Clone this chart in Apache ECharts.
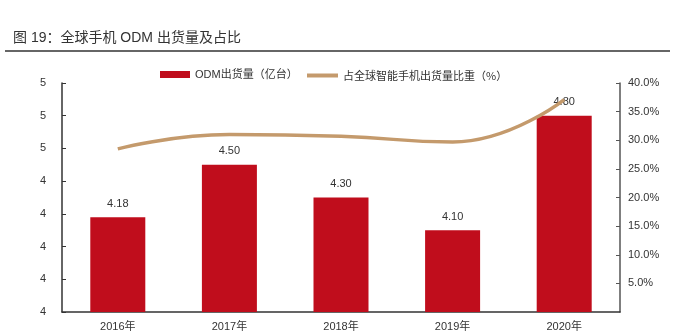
<!DOCTYPE html>
<html><head><meta charset="utf-8">
<script src="https://cdn.jsdelivr.net/npm/echarts@6/dist/echarts.min.js"></script>
<style>html,body{margin:0;padding:0;background:#fff}#c{width:680px;height:336px}</style>
</head><body><div id="c"></div>
<script>
const categories = ['2016年','2017年','2018年','2019年','2020年'];
const odmShipments = [4.18, 4.50, 4.30, 4.10, 4.80];
const shareOfSmartphones = [28.5, 31.0, 30.7, 29.7, 37.1];
const titleText = '图 19：全球手机 ODM 出货量及占比';
const seriesNames = ['ODM出货量（亿台）', '占全球智能手机出货量比重（%）'];

const chart = echarts.init(document.getElementById('c'));
const font = '"Liberation Sans", Arial, "Noto Sans CJK SC", sans-serif';
const cjk = '"Noto Sans CJK SC", "Liberation Sans", sans-serif';
chart.setOption({
  animation: false,
  textStyle: {fontFamily: font},
  title: {text: titleText, left: 8, top: 26, textStyle: {fontSize: 14, fontWeight: 'normal', color: '#333', fontFamily: '"Liberation Sans", "Noto Sans CJK SC", sans-serif'}},
  graphic: [{type: 'line', shape: {x1: 5, y1: 51, x2: 670, y2: 51}, style: {stroke: '#666', lineWidth: 2}}],
  legend: [{
    top: 64, left: 155, itemWidth: 30, itemHeight: 7,
    textStyle: {fontSize: 11, color: '#333', fontFamily: font},
    data: [{name: seriesNames[0], icon: 'rect'}]
  }, {
    top: 65, left: 302, itemWidth: 31, itemHeight: 4,
    textStyle: {fontSize: 11, color: '#333', fontFamily: cjk},
    data: [{name: seriesNames[1], icon: 'rect'}]
  }],
  grid: {left: 62, right: 60, top: 83, bottom: 24},
  xAxis: {
    type: 'category', data: categories,
    axisLine: {lineStyle: {color: '#333', width: 1.5}},
    axisTick: {inside: true, length: 4, lineStyle: {color: '#333'}},
    axisLabel: {fontSize: 11, color: '#333', margin: 9}
  },
  yAxis: [{
    type: 'value', min: 3.6, max: 5.0, interval: 0.2,
    axisLine: {show: true, lineStyle: {color: '#333', width: 1.5}},
    axisTick: {show: true, inside: true, length: 4, lineStyle: {color: '#333'}},
    splitLine: {show: false},
    axisLabel: {fontSize: 11, color: '#333', margin: 16, formatter: v => Math.round(v).toString()}
  }, {
    type: 'value', min: 0, max: 40, interval: 5,
    axisLine: {show: true, lineStyle: {color: '#555', width: 1.5}},
    axisTick: {show: true, inside: true, length: 4, lineStyle: {color: '#555'}},
    splitLine: {show: false},
    axisLabel: {fontSize: 11, color: '#333', margin: 8, showMinLabel: false, formatter: v => v.toFixed(1) + '%'}
  }],
  series: [{
    name: seriesNames[0], type: 'bar', data: odmShipments, barWidth: 55,
    itemStyle: {color: '#C00D1C'},
    label: {show: true, position: 'top', distance: 8, fontSize: 11, color: '#333', formatter: p => p.value.toFixed(2)}
  }, {
    name: seriesNames[1], type: 'line', yAxisIndex: 1, data: shareOfSmartphones, smooth: true,
    symbol: 'none', lineStyle: {color: '#C49A6C', width: 3.5}, itemStyle: {color: '#C49A6C'}, z: 3
  }]
});
</script></body></html>
